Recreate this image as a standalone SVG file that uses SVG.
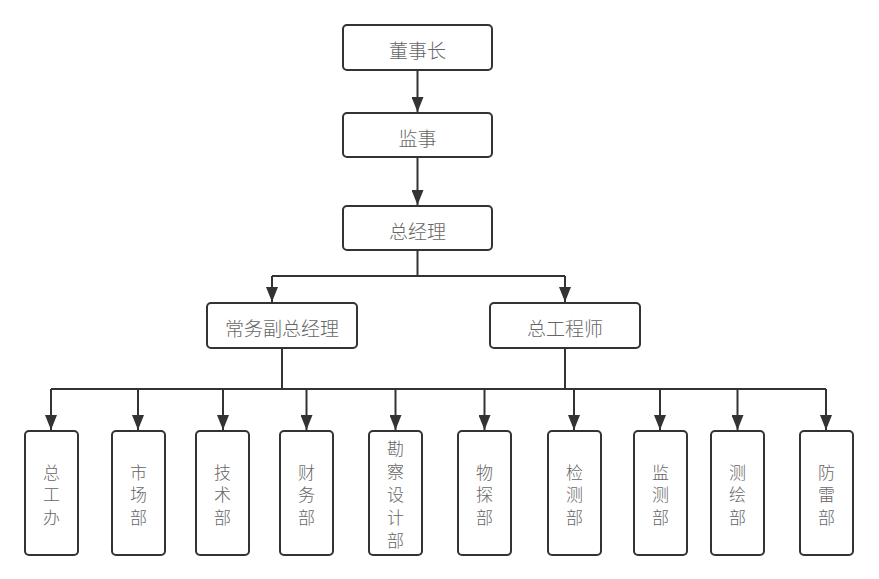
<svg xmlns="http://www.w3.org/2000/svg" width="879" height="579" viewBox="0 0 879 579">
<defs>
<style>
.box{fill:#fff;stroke:#333;stroke-width:2}
.t{font-family:"Noto Sans CJK SC","Noto Sans",sans-serif;font-weight:300;fill:#666;text-anchor:middle;dominant-baseline:central}
.h{font-size:19px}
.v{font-size:17px}
.ln{fill:none;stroke:#333;stroke-width:2}
</style>
<marker id="ar" markerWidth="15" markerHeight="12" refX="15" refY="6" orient="auto" markerUnits="userSpaceOnUse" viewBox="0 0 15 12">
<path d="M0,0 L15,6 L0,12 Z" fill="#333"/>
</marker>
</defs>
<rect width="879" height="579" fill="#fff"/>
<g id="connectors">
<path class="ln" d="M417.5,70 V112" marker-end="url(#ar)"/>
<path class="ln" d="M417.5,157 V205" marker-end="url(#ar)"/>
<path class="ln" d="M417.5,250 V276"/>
<path class="ln" d="M272,276 H565"/>
<path class="ln" d="M272,276 V302" marker-end="url(#ar)"/>
<path class="ln" d="M565,276 V302" marker-end="url(#ar)"/>
<path class="ln" d="M282,348 V389"/>
<path class="ln" d="M565,348 V389"/>
<path class="ln" d="M51,389 H826"/>
<path class="ln" d="M51,389 V430" marker-end="url(#ar)"/>
<path class="ln" d="M138,389 V430" marker-end="url(#ar)"/>
<path class="ln" d="M223,389 V430" marker-end="url(#ar)"/>
<path class="ln" d="M306.5,389 V430" marker-end="url(#ar)"/>
<path class="ln" d="M395.5,389 V430" marker-end="url(#ar)"/>
<path class="ln" d="M484.5,389 V430" marker-end="url(#ar)"/>
<path class="ln" d="M574,389 V430" marker-end="url(#ar)"/>
<path class="ln" d="M660,389 V430" marker-end="url(#ar)"/>
<path class="ln" d="M737.5,389 V430" marker-end="url(#ar)"/>
<path class="ln" d="M826,389 V430" marker-end="url(#ar)"/>
</g>
<g id="n-dongshizhang"><rect class="box" x="343" y="25" width="149" height="45" rx="4"/><text class="t h" x="417.5" y="49">董事长</text></g>
<g id="n-jianshi"><rect class="box" x="343" y="113" width="149" height="44" rx="4"/><text class="t h" x="417.5" y="137">监事</text></g>
<g id="n-zongjingli"><rect class="box" x="343" y="206" width="149" height="44" rx="4"/><text class="t h" x="417.5" y="230">总经理</text></g>
<g id="n-changwu"><rect class="box" x="207" y="303" width="150" height="45" rx="4"/><text class="t h" x="282" y="327">常务副总经理</text></g>
<g id="n-zonggong"><rect class="box" x="490" y="303" width="150" height="45" rx="4"/><text class="t h" x="565" y="327">总工程师</text></g>
<g id="n-zonggongban"><rect class="box" x="25" y="431" width="53" height="124" rx="4"/><text class="t v" x="51.5"><tspan x="51.5" y="470.5">总</tspan><tspan x="51.5" y="493.2">工</tspan><tspan x="51.5" y="516">办</tspan></text></g>
<g id="n-shichang"><rect class="box" x="112" y="431" width="53" height="124" rx="4"/><text class="t v" x="138.5"><tspan x="138.5" y="470.5">市</tspan><tspan x="138.5" y="493.2">场</tspan><tspan x="138.5" y="516">部</tspan></text></g>
<g id="n-jishu"><rect class="box" x="196" y="431" width="53" height="124" rx="4"/><text class="t v" x="222.5"><tspan x="222.5" y="470.5">技</tspan><tspan x="222.5" y="493.2">术</tspan><tspan x="222.5" y="516">部</tspan></text></g>
<g id="n-caiwu"><rect class="box" x="280" y="431" width="53" height="124" rx="4"/><text class="t v" x="306.5"><tspan x="306.5" y="470.5">财</tspan><tspan x="306.5" y="493.2">务</tspan><tspan x="306.5" y="516">部</tspan></text></g>
<g id="n-kancha"><rect class="box" x="369" y="431" width="53" height="124" rx="4"/><text class="t v" x="395.5"><tspan x="395.5" y="447">勘</tspan><tspan x="395.5" y="470">察</tspan><tspan x="395.5" y="493">设</tspan><tspan x="395.5" y="516">计</tspan><tspan x="395.5" y="539">部</tspan></text></g>
<g id="n-wutan"><rect class="box" x="458" y="431" width="53" height="124" rx="4"/><text class="t v" x="484.5"><tspan x="484.5" y="470.5">物</tspan><tspan x="484.5" y="493.2">探</tspan><tspan x="484.5" y="516">部</tspan></text></g>
<g id="n-jiance"><rect class="box" x="548" y="431" width="53" height="124" rx="4"/><text class="t v" x="574.5"><tspan x="574.5" y="470.5">检</tspan><tspan x="574.5" y="493.2">测</tspan><tspan x="574.5" y="516">部</tspan></text></g>
<g id="n-jiance2"><rect class="box" x="634" y="431" width="53" height="124" rx="4"/><text class="t v" x="660.5"><tspan x="660.5" y="470.5">监</tspan><tspan x="660.5" y="493.2">测</tspan><tspan x="660.5" y="516">部</tspan></text></g>
<g id="n-cehui"><rect class="box" x="711" y="431" width="53" height="124" rx="4"/><text class="t v" x="737.5"><tspan x="737.5" y="470.5">测</tspan><tspan x="737.5" y="493.2">绘</tspan><tspan x="737.5" y="516">部</tspan></text></g>
<g id="n-fanglei"><rect class="box" x="800" y="431" width="53" height="124" rx="4"/><text class="t v" x="826.5"><tspan x="826.5" y="470.5">防</tspan><tspan x="826.5" y="493.2">雷</tspan><tspan x="826.5" y="516">部</tspan></text></g>
</svg>
